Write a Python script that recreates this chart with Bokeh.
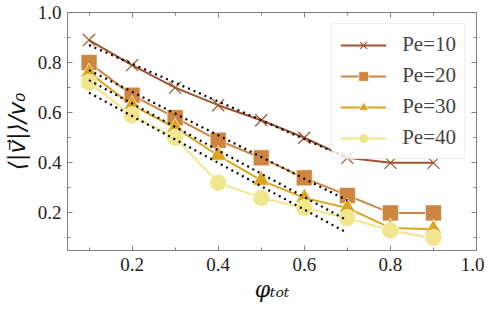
from bokeh.plotting import figure
from bokeh.models import (Range1d, FixedTicker, LinearAxis, Legend, LegendItem,
                          PrintfTickFormatter, CustomJSTickFormatter)
from bokeh.embed import file_html
from bokeh.resources import INLINE

phi = [0.1, 0.2, 0.3, 0.4, 0.5, 0.6, 0.7, 0.8, 0.9]
pe10 = [0.89, 0.79, 0.70, 0.63, 0.57, 0.50, 0.42, 0.40, 0.40]
pe20 = [0.80, 0.67, 0.58, 0.49, 0.42, 0.34, 0.27, 0.20, 0.20]
pe30 = [0.76, 0.63, 0.54, 0.43, 0.33, 0.26, 0.22, 0.14, 0.135]
pe40 = [0.72, 0.59, 0.50, 0.32, 0.26, 0.22, 0.18, 0.13, 0.10]

fit_x = [0.1, 0.7]
fit10 = [0.87, 0.42]
fit20 = [0.77, 0.25]
fit30 = [0.73, 0.17]
fit40 = [0.68, 0.12]

labels = ["Pe=10", "Pe=20", "Pe=30", "Pe=40"]
colors = ["#A0522D", "#CD853F", "#DAA520", "#F0E68C"]

major = [0.2, 0.4, 0.6, 0.8, 1.0]
minor = [0.1, 0.3, 0.5, 0.7, 0.9]

FONT = "Liberation Serif"
LFONT = "DejaVu Serif"
AX = "#7f7f7f"

p = figure(frame_width=409, frame_height=238, output_backend="svg",
           toolbar_location=None, x_range=Range1d(0.05, 1.0),
           y_range=Range1d(0.05, 1.0),
           min_border_left=64, min_border_right=8, min_border_top=12,
           min_border_bottom=5)
p.grid.visible = False
p.outline_line_color = AX
p.background_fill_color = "white"
p.border_fill_color = "white"

def style_axis(ax, show_labels=True):
    ax.ticker = FixedTicker(ticks=major, minor_ticks=minor)
    ax.axis_line_color = AX
    ax.major_tick_line_color = AX
    ax.minor_tick_line_color = AX
    ax.major_tick_in = 5
    ax.major_tick_out = 0
    ax.minor_tick_in = 3
    ax.minor_tick_out = 0
    ax.major_label_text_font = FONT
    ax.major_label_text_font_size = "19px"
    ax.major_label_text_color = "#222222"
    ax.axis_label_text_font = LFONT
    ax.axis_label_text_font_style = "italic"
    ax.axis_label_text_color = "#111111"
    if show_labels:
        ax.formatter = PrintfTickFormatter(format="%.1f")
    else:
        ax.formatter = CustomJSTickFormatter(code="return ''")
        ax.major_label_standoff = 0

style_axis(p.xaxis[0])
style_axis(p.yaxis[0])
p.xaxis[0].axis_label = "φₜₒₜ"
p.xaxis[0].axis_label_text_font_size = "22px"
p.xaxis[0].major_label_standoff = 7
p.xaxis[0].axis_label_standoff = 3
p.yaxis[0].axis_label = "⟨|v⃗|⟩/v₀"
p.yaxis[0].axis_label_text_font = "DejaVu Sans"
p.yaxis[0].axis_label_text_font_size = "23px"
p.yaxis[0].major_label_standoff = 6
p.yaxis[0].axis_label_standoff = 5

top = LinearAxis()
right = LinearAxis()
style_axis(top, False)
style_axis(right, False)
p.add_layout(top, "above")
p.add_layout(right, "right")

series = [pe10, pe20, pe30, pe40]
fits = [fit10, fit20, fit30, fit40]
items = []
for i, (ys, c, lab) in enumerate(zip(series, colors, labels)):
    lr = p.line(phi, ys, line_color=c, line_width=2)
    if i == 0:
        mr = p.scatter(phi, ys, marker="x", size=17, line_color=c, line_width=1.2)
    elif i == 1:
        mr = p.scatter(phi, ys, marker="square", size=16, fill_color=c,
                       line_color="white", line_alpha=0.6, line_width=1)
    elif i == 2:
        mr = p.scatter(phi, ys, marker="triangle", size=17, fill_color=c,
                       line_color="white", line_alpha=0.6, line_width=1)
    else:
        mr = p.scatter(phi, ys, marker="circle", size=17, fill_color=c,
                       line_color="white", line_alpha=0.6, line_width=1)
    items.append(LegendItem(label=lab, renderers=[lr, mr]))

for f in fits:
    p.line(fit_x, f, line_color="black", line_width=2.2, line_dash="2 4")

legend = Legend(items=items, location="top_right")
legend.label_text_font = FONT
legend.label_text_font_size = "21px"
legend.glyph_width = 46
legend.glyph_height = 24
legend.label_standoff = 16
legend.spacing = 6
legend.padding = 8
legend.margin = 11
legend.border_line_color = "#dddddd"
legend.border_line_width = 1
legend.background_fill_alpha = 0.85
p.add_layout(legend, "center")

open("out.html", "w").write(file_html(p, INLINE))
